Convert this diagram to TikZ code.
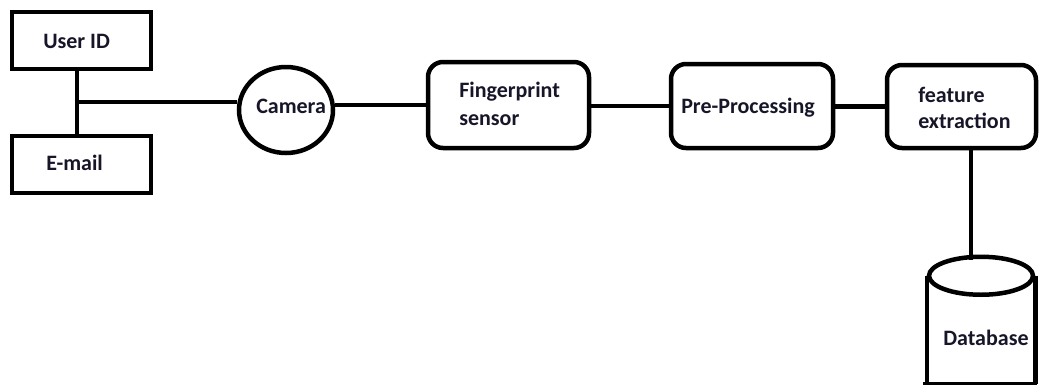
\documentclass[tikz,border=0pt]{standalone}
\usepackage{fontspec}
\setmainfont{Carlito}
\usetikzlibrary{shapes.geometric}
\definecolor{ink}{RGB}{22,22,40}
\begin{document}
\begin{tikzpicture}[x=1pt,y=-1pt,
  line width=4.5pt,
  box/.style={draw, rectangle, inner sep=0pt},
  rbox/.style={box, rounded corners=15pt},
  lbl/.style={font=\fontsize{22}{28}\selectfont\bfseries, text=ink,
    anchor=base west, align=left, inner sep=0pt}]
\useasboundingbox (0,0) rectangle (1039,384);

% input boxes
\node[box, minimum width=139pt, minimum height=57pt] (uid) at (81.5,40.5) {};
\node[box, minimum width=139pt, minimum height=57pt] (email) at (81.5,164.5) {};
\node[lbl] (uidt) at (41,48) {User ID};
\node[lbl] (emailt) at (44,170) {E-mail};

% camera
\node[draw, ellipse, inner sep=0pt, minimum width=94pt, minimum height=86pt] (cam) at (286,110) {};
\node[lbl] (camt) at (254,113) {Camera};

% processing chain (base anchor of two-line labels sits on the last line)
\node[rbox, minimum width=161pt, minimum height=86pt] (fp) at (508.5,105) {};
\node[lbl] (fpt) at (457,125) {Fingerprint\\sensor};
\node[rbox, minimum width=162pt, minimum height=84pt] (pre) at (752,106) {};
\node[lbl] (pret) at (679,113) {Pre-Processing};
\node[rbox, minimum width=149pt, minimum height=83pt] (feat) at (961.5,106.5) {};
\node[lbl, font=\fontsize{22}{26}\selectfont\bfseries] (featt) at (916,128) {feature\\extraction};

% database cylinder (body cut flat at the bottom)
\node[inner sep=0pt, minimum width=104pt, minimum height=104pt] (db) at (981,330) {};
\draw (db.north) ellipse [x radius=52pt, y radius=19pt];
\draw (db.north west) -- (db.south west);
\draw (db.north east) -- (db.south east);
\draw ([xshift=-4pt]db.south west) -- ([xshift=2pt]db.south east);
\node[lbl] (dbt) at (941,345) {Database};

% connectors
\coordinate (j) at (77,102);
\coordinate (tap) at (971,259.5);
\draw (uid.south -| j) -- (email.north -| j);
\draw (j) -- (cam.west |- j);
\draw (cam.east |- fp.west) -- (fp.west);
\draw (fp.east |- pre.west) -- (pre.west);
\draw (pre.east |- feat.west) -- (feat.west);
\draw (feat.south -| tap) -- (tap);
\end{tikzpicture}
\end{document}
